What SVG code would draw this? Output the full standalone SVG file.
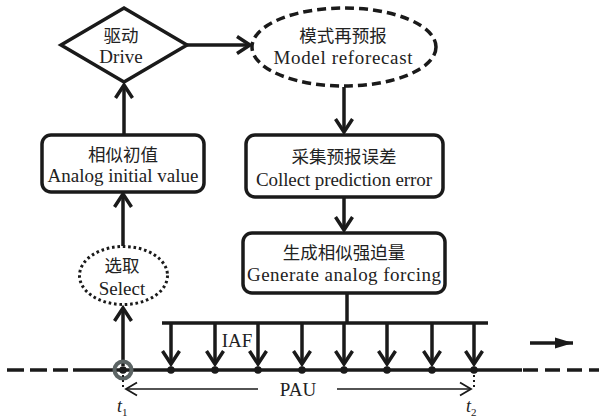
<svg xmlns="http://www.w3.org/2000/svg" width="599" height="417" viewBox="0 0 599 417">
<defs>
<style>
.en{font-family:"Liberation Serif","Times New Roman",serif;font-size:19px;fill:#222;text-anchor:middle}
.cn{font-family:"Liberation Serif","Noto Sans CJK SC",serif;font-size:17.5px;fill:#222;text-anchor:middle}
.shape{fill:#fff;stroke:#1a1a1a;stroke-width:3.5}
.conn{fill:none;stroke:#1a1a1a;stroke-width:3.5}
.thin{fill:none;stroke:#1a1a1a;stroke-width:1.6}
</style>
<marker id="chev" markerUnits="userSpaceOnUse" viewBox="-16 -12 20 24" refX="0" refY="0" markerWidth="20" markerHeight="24" orient="auto">
<path d="M-13,-8.5 L0,0 L-13,8.5" fill="none" stroke="#1a1a1a" stroke-width="3.5" stroke-linejoin="miter"/>
</marker>
<marker id="chevThin" markerUnits="userSpaceOnUse" viewBox="-14 -9 16 18" refX="0" refY="0" markerWidth="16" markerHeight="18" orient="auto">
<path d="M-11,-6.5 L0,0 L-11,6.5" fill="none" stroke="#1a1a1a" stroke-width="1.8"/>
</marker>
<marker id="tri" markerUnits="userSpaceOnUse" viewBox="-19 -6 21 12" refX="0" refY="0" markerWidth="21" markerHeight="12" orient="auto">
<path d="M-18,-5.5 L0,0 L-18,5.5 Z" fill="#1a1a1a"/>
</marker>
</defs>
<rect width="599" height="417" fill="#fff"/>

<g id="connectors">
<path class="conn" d="M187,45 L250,45" marker-end="url(#chev)"/>
<path class="conn" d="M124,135 L124,85" marker-end="url(#chev)"/>
<path class="conn" d="M344,87 L344,132" marker-end="url(#chev)"/>
<path class="conn" d="M344,197 L344,230" marker-end="url(#chev)"/>
<path class="conn" d="M123,246 L123,194" marker-end="url(#chev)"/>
<path class="conn" d="M123,366 L123,308" marker-end="url(#chev)"/>
<path class="conn" d="M347,293 L347,323"/>
<path class="conn" d="M162,323 L488,323"/>
<path class="conn" d="M171,323 V364" marker-end="url(#chev)"/>
<path class="conn" d="M215,323 V364" marker-end="url(#chev)"/>
<path class="conn" d="M258,323 V364" marker-end="url(#chev)"/>
<path class="conn" d="M302,323 V364" marker-end="url(#chev)"/>
<path class="conn" d="M344,323 V364" marker-end="url(#chev)"/>
<path class="conn" d="M387,323 V364" marker-end="url(#chev)"/>
<path class="conn" d="M432,323 V364" marker-end="url(#chev)"/>
<path class="conn" d="M474,323 V364" marker-end="url(#chev)"/>
</g>

<g id="drive">
<polygon class="shape" points="124,8 187,45 124,82 61,45"/>
<text class="cn" x="121" y="42">驱动</text>
<text class="en" x="121" y="63">Drive</text>
</g>

<g id="reforecast">
<ellipse class="shape" cx="344" cy="47" rx="92" ry="39" stroke-dasharray="9 5"/>
<text class="cn" x="343" y="42">模式再预报</text>
<text class="en" x="343" y="64" textLength="139" lengthAdjust="spacing">Model reforecast</text>
</g>

<g id="analog-initial">
<rect class="shape" x="42" y="135" width="162" height="57" rx="9"/>
<text class="cn" x="123" y="161">相似初值</text>
<text class="en" x="123" y="182" textLength="151" lengthAdjust="spacing">Analog initial value</text>
</g>

<g id="collect">
<rect class="shape" x="246" y="135" width="197" height="62" rx="9"/>
<text class="cn" x="344" y="163">采集预报误差</text>
<text class="en" x="344" y="186" textLength="176" lengthAdjust="spacing">Collect prediction error</text>
</g>

<g id="generate">
<rect class="shape" x="243" y="233" width="202" height="60" rx="9"/>
<text class="cn" x="344" y="259">生成相似强迫量</text>
<text class="en" x="344" y="281" textLength="194" lengthAdjust="spacing">Generate analog forcing</text>
</g>

<g id="select">
<ellipse cx="123.5" cy="275.5" rx="44" ry="29" fill="#fff" stroke="#1a1a1a" stroke-width="3" stroke-dasharray="2.6 2.8"/>
<text class="cn" x="122" y="272">选取</text>
<text class="en" x="122" y="295">Select</text>
</g>

<g id="timeline">
<path class="conn" d="M7,370 L68,370" stroke-dasharray="17 6"/>
<path class="conn" d="M73,370 L522,370"/>
<path class="conn" d="M523,370 L599,370" stroke-dasharray="15 7"/>
<circle cx="123" cy="370" r="8.5" fill="none" stroke="#5c6464" stroke-width="4"/>
<circle cx="123" cy="370" r="3.8" fill="#1a1a1a"/>
<g fill="#1a1a1a">
<circle cx="171" cy="370" r="3.8"/><circle cx="215" cy="370" r="3.8"/><circle cx="258" cy="370" r="3.8"/><circle cx="302" cy="370" r="3.8"/><circle cx="344" cy="370" r="3.8"/><circle cx="387" cy="370" r="3.8"/><circle cx="432" cy="370" r="3.8"/><circle cx="474" cy="370" r="3.8"/>
</g>
<path d="M123,375 V390 M474,375 V390" fill="none" stroke="#1a1a1a" stroke-width="2" stroke-dasharray="2 3"/>
<path class="thin" d="M258,389 L126,389" marker-end="url(#chevThin)"/>
<path class="thin" d="M337,389 L471,389" marker-end="url(#chevThin)"/>
<text class="en" x="298" y="396">PAU</text>
<text class="en" x="237" y="347">IAF</text>
<text x="117" y="412" font-family="Liberation Serif, serif" font-size="18" font-style="italic" fill="#222">t<tspan font-size="11" font-style="normal" dy="4">1</tspan></text>
<text x="466" y="412" font-family="Liberation Serif, serif" font-size="18" font-style="italic" fill="#222">t<tspan font-size="11" font-style="normal" dy="4">2</tspan></text>
<path class="conn" d="M530,343 L558,343"/>
<path class="conn" d="M556,343 L573,343" stroke="none" marker-end="url(#tri)"/>
</g>
</svg>
